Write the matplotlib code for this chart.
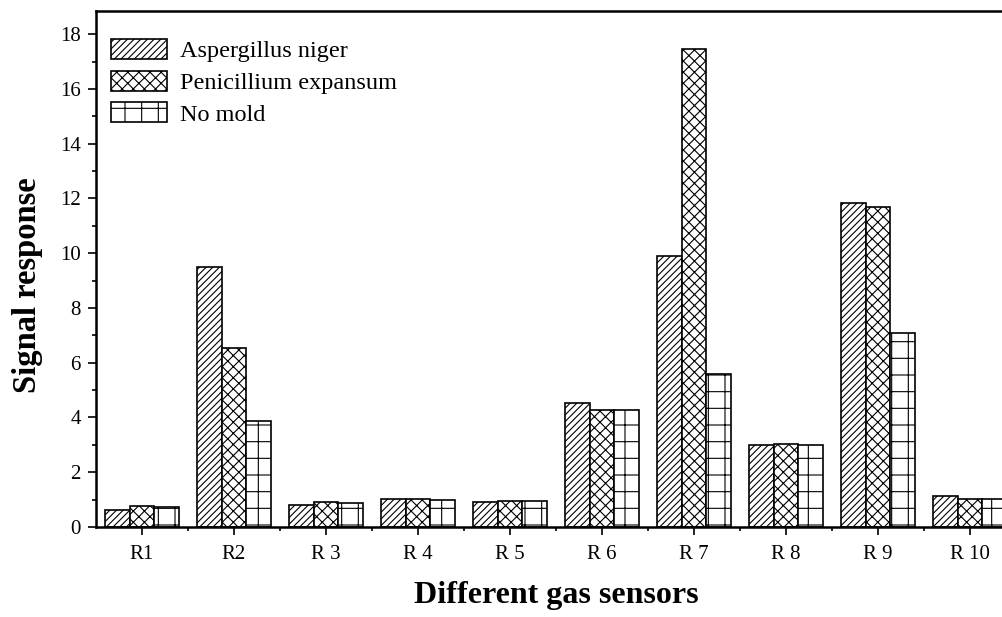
import numpy as np
import matplotlib
matplotlib.use("Agg")
import matplotlib.pyplot as plt

# ---- data ----
sensors = ["R1", "R2", "R 3", "R 4", "R 5", "R 6", "R 7", "R 8", "R 9", "R 10"]
aspergillus = [0.61, 9.50, 0.82, 1.04, 0.93, 4.52, 9.90, 2.99, 11.83, 1.12]
penicillium = [0.76, 6.55, 0.90, 1.02, 0.96, 4.29, 17.45, 3.02, 11.70, 1.04]
no_mold = [0.73, 3.88, 0.89, 1.00, 0.96, 4.26, 5.60, 2.99, 7.07, 1.03]
series_names = ["Aspergillus niger", "Penicillium expansum", "No mold"]
yticks = [0, 2, 4, 6, 8, 10, 12, 14, 16, 18]

plt.rcParams['font.family'] = ['Liberation Serif', 'DejaVu Serif']
plt.rcParams['hatch.linewidth'] = 0.8
plt.rcParams['hatch.color'] = 'black'

fig = plt.figure(figsize=(10.03, 6.17), dpi=100)
ax = fig.add_axes([0.0957, 0.1459, 0.9173, 0.8363])

x = np.arange(1, len(sensors) + 1)
w = 0.265
hatches = ['/////', 'xxx', '+']
data = [aspergillus, penicillium, no_mold]
for i, (vals, name, h) in enumerate(zip(data, series_names, hatches)):
    ax.bar(x + (i - 1) * w, vals, width=w, facecolor='white', edgecolor='black',
           linewidth=1.2, hatch=h, label=name, zorder=2)

ax.set_xlim(0.5, 10.5)
ax.set_ylim(0, 18.85)
ax.set_xticks(x)
ax.set_xticklabels(sensors)
ax.set_xticks(x[:-1] + 0.5, minor=True)
ax.set_yticks(yticks)
ax.set_yticks(np.arange(1, 19, 2), minor=True)

for s in ax.spines.values():
    s.set_linewidth(1.8)
ax.tick_params(axis='both', which='major', direction='out', length=6, width=1.2,
               labelsize=15, pad=5)
ax.tick_params(axis='both', which='minor', direction='out', length=3, width=1.2)
ax.tick_params(axis='x', which='major', pad=7)

ax.set_xlabel("Different gas sensors", fontsize=23, fontweight='bold')
ax.set_ylabel("Signal response", fontsize=23.5, fontweight='bold')
ax.xaxis.set_label_coords(0.5, -0.105)
ax.yaxis.set_label_coords(-0.058, 0.469)

leg = ax.legend(loc='upper left', bbox_to_anchor=(0.016, 0.946), frameon=False,
                fontsize=17.5, borderaxespad=0, borderpad=0, handlelength=2.3,
                handleheight=0.9, handletextpad=0.55, labelspacing=0.34)
for p in leg.get_patches():
    p.set_linewidth(1.2)

fig.savefig("out.png", dpi=100)
